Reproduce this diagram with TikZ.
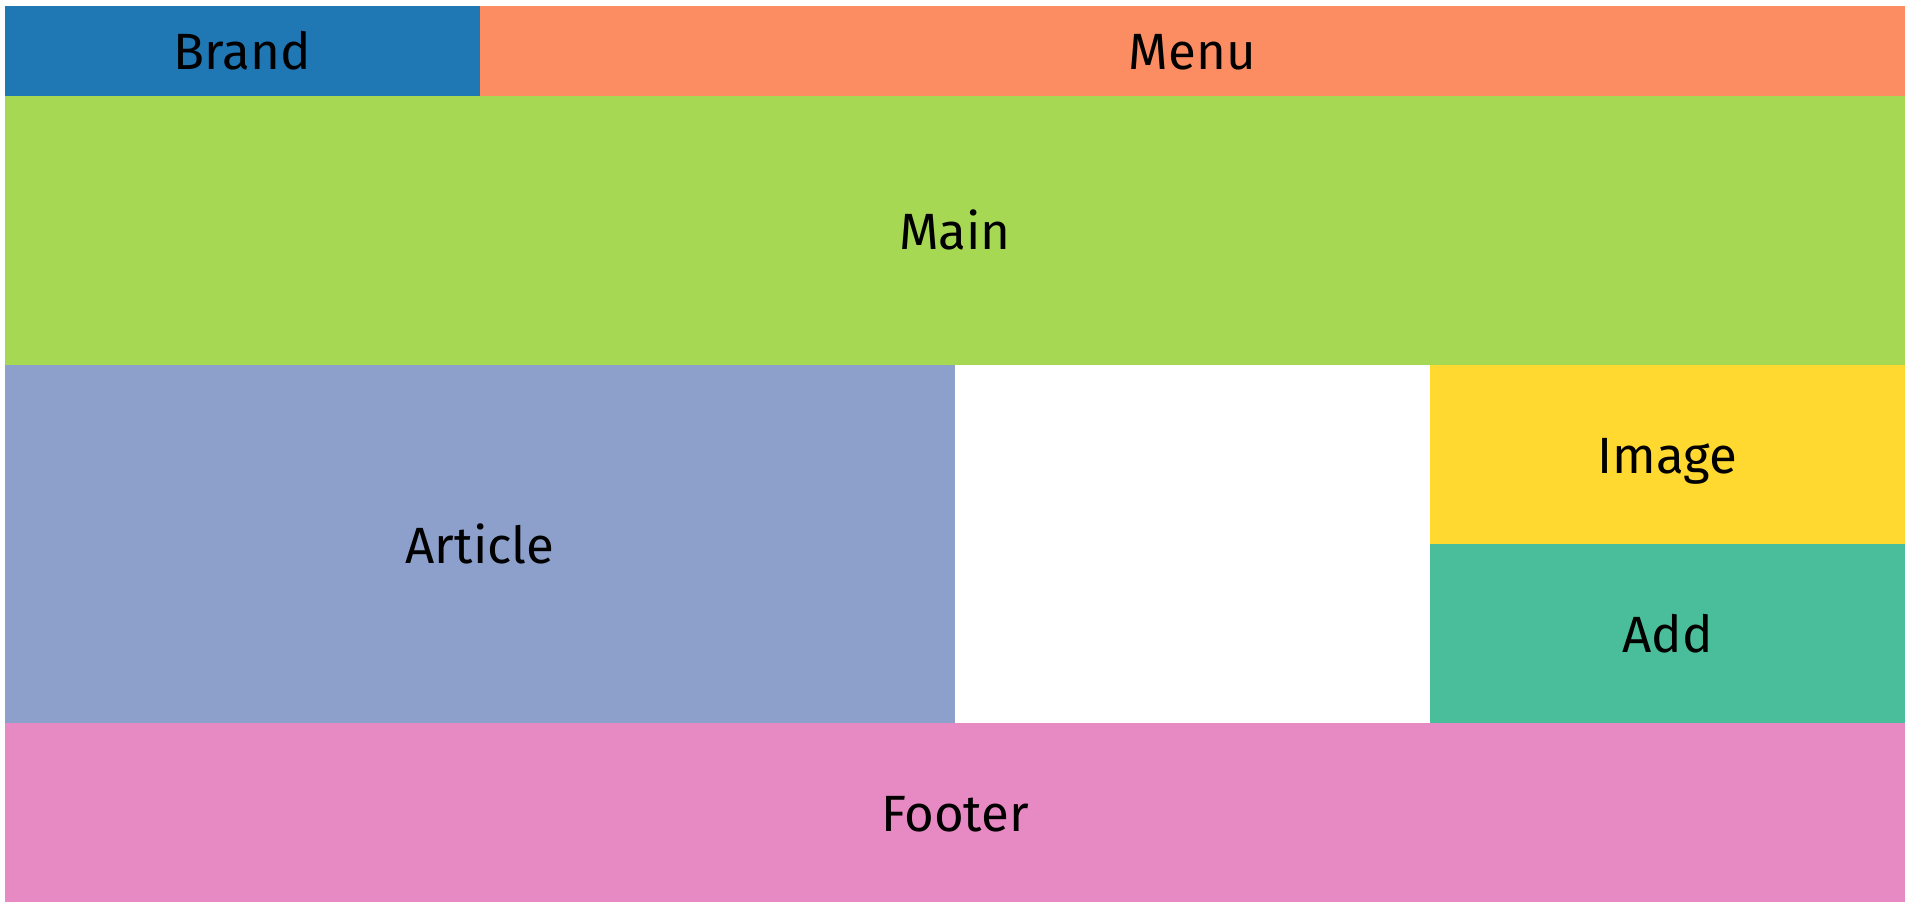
\documentclass[tikz,border=0pt]{standalone}
\usepackage{fontspec}
\setmainfont{Fira Sans}
\definecolor{cbrand}{HTML}{1F77B4}
\definecolor{cmenu}{HTML}{FC8D62}
\definecolor{cmain}{HTML}{A6D854}
\definecolor{carticle}{HTML}{8DA0CB}
\definecolor{cimage}{HTML}{FFD92F}
\definecolor{cadd}{HTML}{4ABE9A}
\definecolor{cfooter}{HTML}{E78AC3}
\begin{document}
\begin{tikzpicture}[x=1pt,y=-1pt,
  cell/.style={draw=none,inner sep=0pt,outer sep=0pt,anchor=base,yshift=-19pt,font=\fontsize{51}{60}\selectfont,text=black}]
\fill[white] (0,0) rectangle (1914,912);
\useasboundingbox (0,0) rectangle (1914,912);
\fill[cbrand] (5,6) rectangle (480,96);
\node[cell] (brand) at (242.5,51) {Brand};
\fill[cmenu] (480,6) rectangle (1905,96);
\node[cell] (menu) at (1192.5,51) {Menu};
\fill[cmain] (5,96) rectangle (1905,365);
\node[cell] (main) at (955,230.5) {Main};
\fill[carticle] (5,365) rectangle (955,723);
\node[cell] (article) at (480,544) {Article};
\fill[cimage] (1430,365) rectangle (1905,544);
\node[cell] (image) at (1667.5,454.5) {Image};
\fill[cadd] (1430,544) rectangle (1905,723);
\node[cell] (add) at (1667.5,633.5) {Add};
\fill[cfooter] (5,723) rectangle (1905,902);
\node[cell] (footer) at (955,812.5) {Footer};
\end{tikzpicture}
\end{document}
